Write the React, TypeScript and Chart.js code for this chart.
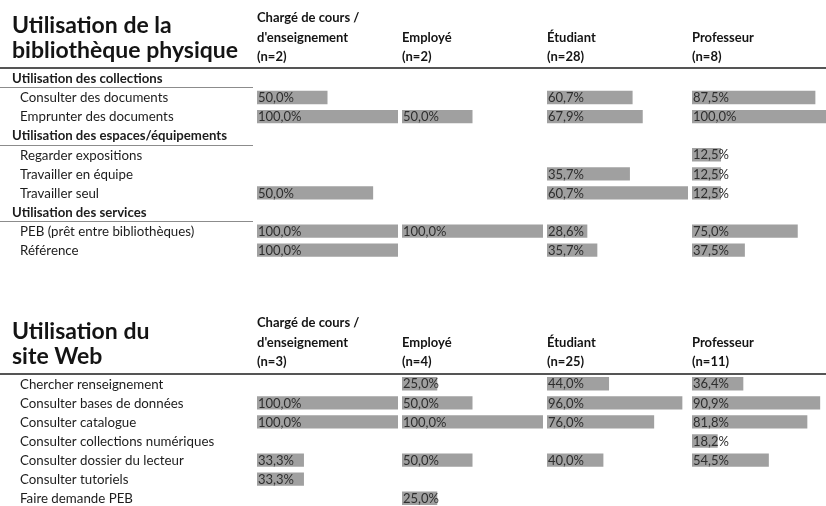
import React, { useEffect, useRef } from "react";
import { Chart, registerables } from "chart.js";

Chart.register(...registerables);

// ---------- data ----------
const physTitle = ["Utilisation de la", "bibliothèque physique"];
const webTitle = ["Utilisation du", "site Web"];

const columnNames = [["Chargé de cours /", "d'enseignement"], ["Employé"], ["Étudiant"], ["Professeur"]];
const physN = [2, 2, 28, 8];
const webN = [3, 4, 25, 11];

const physRows = [
  "Utilisation des collections",
  "Consulter des documents",
  "Emprunter des documents",
  "Utilisation des espaces/équipements",
  "Regarder expositions",
  "Travailler en équipe",
  "Travailler seul",
  "Utilisation des services",
  "PEB (prêt entre bibliothèques)",
  "Référence",
];
const physHeadings = [0, 3, 7];

const physCharge = [null, 50.0, 100.0, null, null, null, 50.0, null, 100.0, 100.0];
const physEmploye = [null, null, 50.0, null, null, null, null, null, 100.0, null];
const physEtudiant = [null, 60.7, 67.9, null, null, 35.7, 60.7, null, 28.6, 35.7];
const physProf = [null, 87.5, 100.0, null, 12.5, 12.5, 12.5, null, 75.0, 37.5];

const webRows = [
  "Chercher renseignement",
  "Consulter bases de données",
  "Consulter catalogue",
  "Consulter collections numériques",
  "Consulter dossier du lecteur",
  "Consulter tutoriels",
  "Faire demande PEB",
];

const webCharge = [null, 100.0, 100.0, null, 33.3, 33.3, null];
const webEmploye = [25.0, 50.0, 100.0, null, 50.0, null, 25.0];
const webEtudiant = [44.0, 96.0, 76.0, null, 40.0, null, null];
const webProf = [36.4, 90.9, 81.8, 18.2, 54.5, null, null];

// ---------- layout constants ----------
const GAP_ROWS = 6; // empty rows between the two tables
const CANVAS_W = 845;
const CANVAS_H = 510;
const COL_PX = 145; // cell width
const BAR_FULL_PX = 141; // length of a data bar at block maximum
const FONT = '"Lato", "Noto Sans", sans-serif';

// ---------- derived table ----------
const gapLabels = Array.from({ length: GAP_ROWS }, () => "");
const allLabels = [...physRows, ...gapLabels, ...webRows];
const webStart = physRows.length + GAP_ROWS;
const gapNulls = Array.from({ length: GAP_ROWS }, () => null);
const columns = [
  [...physCharge, ...gapNulls, ...webCharge],
  [...physEmploye, ...gapNulls, ...webEmploye],
  [...physEtudiant, ...gapNulls, ...webEtudiant],
  [...physProf, ...gapNulls, ...webProf],
];
// data-bar groups (each group scaled to its own maximum, as Excel data bars)
const blocks: [number, number][] = [
  [0, 2],
  [3, 6],
  [7, 9],
  [webStart, webStart + webRows.length - 1],
];

const fmt = (v: number) => v.toFixed(1).replace(".", ",") + "%";

export default function App() {
  const ref = useRef<HTMLCanvasElement>(null);

  useEffect(() => {
    const canvas = ref.current!;
    const scales: any = {
      y: { type: "category", display: false, offset: true, grid: { display: false } },
    };
    const datasets: any[] = [];
    blocks.forEach(([a, b], bi) => {
      let bmax = 0;
      columns.forEach((col) => {
        for (let i = a; i <= b; i++) if (col[i] != null) bmax = Math.max(bmax, col[i] as number);
      });
      columns.forEach((col, ci) => {
        const id = `x${bi}_${ci}`;
        scales[id] = {
          type: "linear",
          position: "bottom",
          stack: `blk${bi}`,
          stackWeight: 1,
          display: false,
          min: 0,
          max: (bmax * COL_PX) / BAR_FULL_PX,
        };
        datasets.push({
          data: col.map((v, i) => (i >= a && i <= b ? v : null)),
          xAxisID: id,
          yAxisID: "y",
          backgroundColor: "#a0a0a0",
          borderWidth: 0,
          grouped: false,
          barPercentage: 0.7,
          categoryPercentage: 1,
        });
      });
    });

    const tablePlugin = {
      id: "tableText",
      afterDatasetsDraw(chart: any) {
        const ctx = chart.ctx as CanvasRenderingContext2D;
        const y = chart.scales.y;
        ctx.save();
        // value labels
        ctx.textAlign = "left";
        ctx.textBaseline = "middle";
        ctx.fillStyle = "#2e2e2e";
        ctx.font = `13px ${FONT}`;
        chart.data.datasets.forEach((ds: any, di: number) => {
          const meta = chart.getDatasetMeta(di);
          meta.data.forEach((el: any, i: number) => {
            const v = ds.data[i];
            if (v == null) return;
            const left = Math.min(el.base, el.x);
            ctx.fillText(fmt(v), left + 1, el.y + 0.5);
          });
        });
        // row labels
        allLabels.forEach((lab, i) => {
          if (!lab) return;
          const cy = y.getPixelForValue(i);
          const heading = i < physRows.length && physHeadings.includes(i);
          ctx.fillStyle = "#1c1c1c";
          ctx.font = heading ? `bold 13.2px ${FONT}` : `13.3px ${FONT}`;
          ctx.fillText(lab, heading ? 12 : 20, cy + 0.5);
          if (heading) {
            const ly = Math.round(cy + 9) + 0.5;
            ctx.strokeStyle = "#8c8c8c";
            ctx.lineWidth = 1;
            ctx.beginPath();
            ctx.moveTo(0, ly);
            ctx.lineTo(253, ly);
            ctx.stroke();
          }
        });
        // section headers
        const sections = [
          { title: physTitle, n: physN, first: 0, block: 0 },
          { title: webTitle, n: webN, first: webStart, block: 3 },
        ];
        sections.forEach((s) => {
          const c = y.getPixelForValue(s.first);
          ctx.fillStyle = "#141414";
          ctx.textBaseline = "alphabetic";
          ctx.font = `bold 23px ${FONT}`;
          ctx.fillText(s.title[0], 12, c - 45);
          ctx.fillText(s.title[1], 12, c - 20);
          ctx.textBaseline = "middle";
          ctx.font = `bold 13px ${FONT}`;
          columnNames.forEach((names, ci) => {
            const sc = chart.scales[`x${s.block}_${ci}`];
            const lines = [...names, `(n=${s.n[ci]})`];
            lines.forEach((t, j) => {
              const ly = c - 21.5 - (lines.length - 1 - j) * 19.5;
              ctx.fillText(t, sc.getPixelForValue(0), ly);
            });
          });
          ctx.strokeStyle = "#555555";
          ctx.lineWidth = 2;
          ctx.beginPath();
          ctx.moveTo(0, Math.round(c - 10));
          ctx.lineTo(chart.width, Math.round(c - 10));
          ctx.stroke();
        });
        ctx.restore();
      },
    };

    const chart = new Chart(canvas, {
      type: "bar",
      data: { labels: allLabels, datasets },
      options: {
        indexAxis: "y",
        responsive: false,
        animation: false,
        devicePixelRatio: 1,
        layout: { padding: { left: 257, right: CANVAS_W - 257 - 4 * COL_PX, top: 68.9, bottom: CANVAS_H - 507.8 } },
        scales,
        plugins: { legend: { display: false }, tooltip: { enabled: false } },
      },
      plugins: [tablePlugin],
    } as any);
    return () => chart.destroy();
  }, []);

  return (
    <div style={{ position: "fixed", left: 0, top: 0, width: 826, height: 506, overflow: "hidden", background: "#ffffff" }}>
      <canvas ref={ref} width={CANVAS_W} height={CANVAS_H} style={{ display: "block", width: CANVAS_W, height: CANVAS_H }} />
    </div>
  );
}
